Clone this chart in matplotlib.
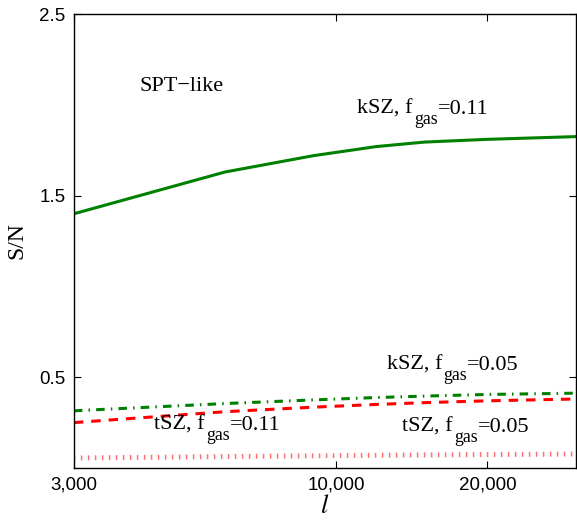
import numpy as np
import matplotlib.pyplot as plt

plt.rcParams['mathtext.fontset'] = 'stix'

# multipole values and S/N
ell = [3000, 6000, 9000, 12000, 15000, 20000, 30000]
ksz_011 = [1.40, 1.63, 1.72, 1.77, 1.795, 1.81, 1.825]
ksz_005 = [0.315, 0.355, 0.375, 0.388, 0.396, 0.405, 0.412]
tsz_011 = [0.25, 0.31, 0.335, 0.35, 0.36, 0.37, 0.38]
tsz_005 = [0.055, 0.063, 0.067, 0.070, 0.072, 0.074, 0.077]

xticks = [3000, 10000, 20000]
xticklabels = ['3,000', '10,000', '20,000']
yticks = [0.5, 1.5, 2.5]

serif = 'Liberation Serif'
sans = 'Liberation Sans'
FS = 16


def label(ax, x, y, head, value):
    # "head f" + lowered "gas" + "=value", like the original figure
    t = ax.text(x, y, head + ' f', fontsize=FS, family=serif, va='baseline', ha='left')
    s = ax.annotate('gas', xy=(1, 0), xycoords=t, xytext=(1, -6.5), textcoords='offset points',
                    fontsize=FS * 0.8, family=serif, va='bottom', ha='left')
    ax.annotate('=' + value, xy=(1, 0), xycoords=(s, t), xytext=(0, 0), textcoords='offset points',
                fontsize=FS, family=serif, va='bottom', ha='left')


fig = plt.figure(figsize=(5.77, 5.20), dpi=100)
ax = fig.add_axes([0.128, 0.10, 0.870, 0.873])

ax.plot(ell, ksz_011, color='#008000', lw=2.2, linestyle='-')
ax.plot(ell, ksz_005, color='#008000', lw=2.2, linestyle=(0, (2.8, 2, 0.5, 2)))
ax.plot(ell, tsz_011, color='#ff0000', lw=2.2, linestyle=(0, (3.1, 2.6)))
ax.plot(ell, tsz_005, color='#ff7070', lw=3.6, linestyle=(0, (0.3, 1.1)))

ax.set_xscale('log')
ax.set_xlim(3000, 30000)
ax.set_ylim(0, 2.5)
ax.set_xticks(xticks)
ax.set_xticklabels(xticklabels)
ax.xaxis.set_minor_locator(plt.NullLocator())
ax.set_yticks(yticks)
ax.set_yticklabels(['0.5', '1.5', '2.5'])
ax.tick_params(direction='in', top=True, right=True, length=5, width=0.8,
               labelsize=13.5, pad=6)
for lab in ax.get_xticklabels() + ax.get_yticklabels():
    lab.set_family(sans)
for s in ax.spines.values():
    s.set_linewidth(1.0)

ax.set_xlabel('$l$', fontsize=19, labelpad=0)
ax.set_ylabel('S/N', fontsize=17, family=serif)
ax.yaxis.set_label_coords(-0.092, 0.5)

ax.text(4050, 2.10, 'SPT\u2212like', fontsize=FS, family=serif, va='center', ha='left')
label(ax, 11000, 1.95, 'kSZ,', '0.11')
label(ax, 12600, 0.54, 'kSZ,', '0.05')
label(ax, 4330, 0.21, 'tSZ,', '0.11')
label(ax, 13500, 0.20, 'tSZ,', '0.05')

fig.savefig('out.png', dpi=100)
